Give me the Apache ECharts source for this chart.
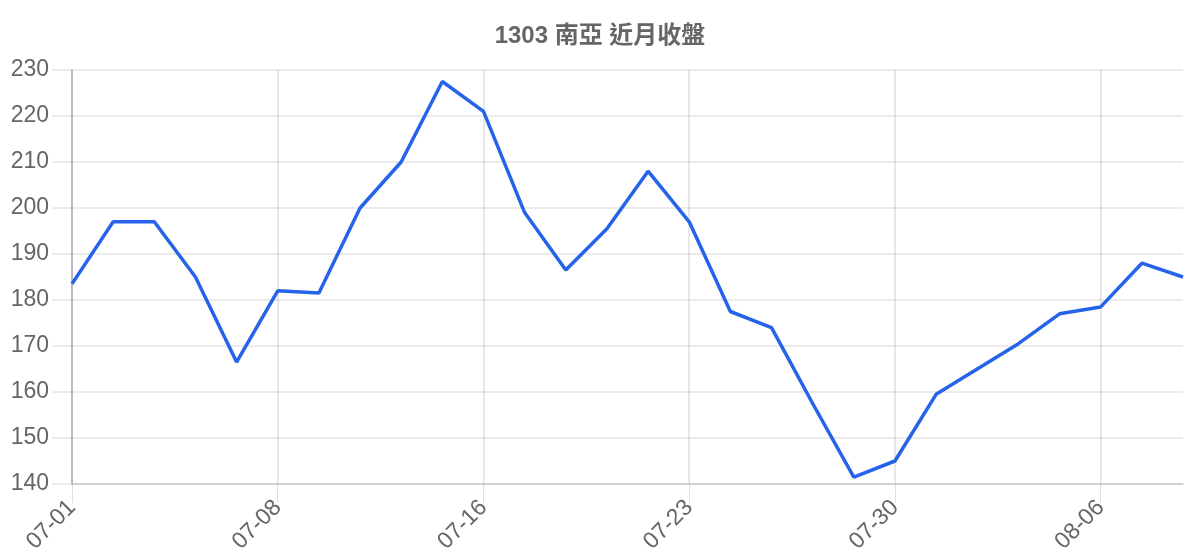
<!DOCTYPE html>
<html>
<head>
<meta charset="utf-8">
<script src="https://cdn.jsdelivr.net/npm/echarts@6/dist/echarts.min.js"></script>
<style>
html,body{margin:0;padding:0;background:#fff;}
#chart{width:1200px;height:560px;}
</style>
</head>
<body>
<div id="chart"></div>
<script>
var titleText = '1303 南亞 近月收盤';
var dates = ['07-01','07-02','07-03','07-04','07-05','07-08','07-09','07-10','07-11','07-12',
             '07-16','07-17','07-18','07-19','07-22','07-23','07-24','07-25','07-26','07-29',
             '07-30','07-31','08-01','08-02','08-05','08-06','08-07','08-08'];
var closes = [183.5,197,197,185,166.5,182,181.5,200,210,227.5,
              221,199,186.5,195.5,208,197,177.5,174,157.5,141.5,
              145,159.5,165,170.5,177,178.5,188,185];
var yMin = 140, yMax = 230, yStep = 10;

var FONT = "'Liberation Sans', Arial, 'Noto Sans CJK TC', sans-serif";
var chart = echarts.init(document.getElementById('chart'));
chart.setOption({
  animation: false,
  backgroundColor: '#fff',
  textStyle: { fontFamily: FONT },
  title: {
    text: titleText,
    left: 'center',
    top: 19,
    textStyle: { fontFamily: FONT, fontSize: 24, fontWeight: 'bold', color: '#666' }
  },
  grid: { left: 72, right: 17, top: 70, bottom: 76, containLabel: false },
  xAxis: {
    type: 'category',
    data: dates,
    boundaryGap: false,
    axisLine: { show: true, lineStyle: { color: '#c8c8c8', width: 1.5 } },
    axisTick: { show: true, interval: 4, length: 19, lineStyle: { color: 'rgba(0,0,0,0.12)' } },
    splitLine: { show: true, interval: 4, lineStyle: { color: 'rgba(0,0,0,0.12)', width: 1.5 } },
    axisLabel: { interval: 4, rotate: 45, margin: 20, fontSize: 23, color: '#666', fontFamily: FONT }
  },
  yAxis: {
    type: 'value',
    min: yMin, max: yMax, interval: yStep,
    axisLine: { show: true, lineStyle: { color: '#aaa', width: 1.5 } },
    axisTick: { show: true, length: 20, lineStyle: { color: 'rgba(0,0,0,0.1)', width: 1.5 } },
    splitLine: { show: true, lineStyle: { color: 'rgba(0,0,0,0.1)', width: 1.5 } },
    axisLabel: { margin: 23, fontSize: 23, color: '#666', fontFamily: FONT }
  },
  series: [{
    type: 'line',
    data: closes,
    showSymbol: false,
    symbol: 'none',
    lineStyle: { color: '#2563eb', width: 3.5 },
    itemStyle: { color: '#2563eb' }
  }]
});
</script>
</body>
</html>
